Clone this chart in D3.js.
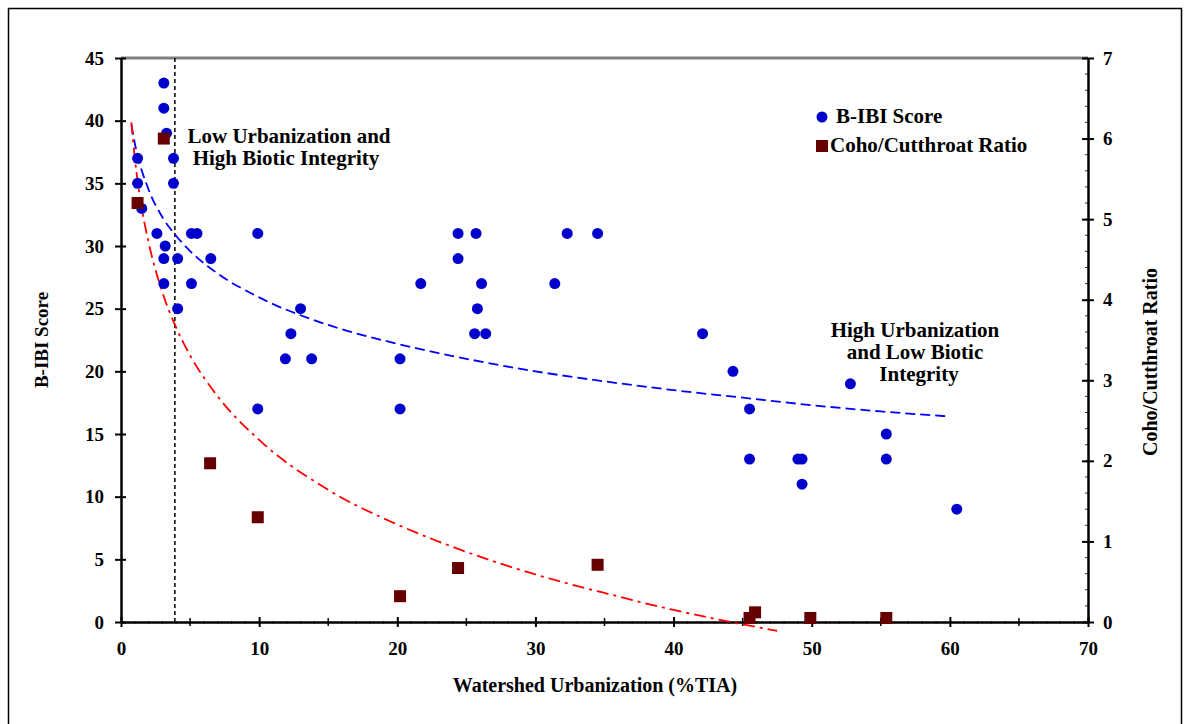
<!DOCTYPE html>
<html><head><meta charset="utf-8">
<script src="https://cdn.jsdelivr.net/npm/d3@7"></script>
<style>body{margin:0;background:#fff}svg text{font-family:"Liberation Serif","Times New Roman",serif;font-weight:bold;fill:#000}</style>
</head><body><svg id="c" width="1189" height="724"></svg>
<script>
// B-IBI score points: watershed %TIA and score
const ibiX = [3.1,3.1,3.3,1.2,3.8,1.2,3.8,1.5,2.6,5.1,5.5,9.9,3.2,3.1,4.1,6.5,3.1,5.1,4.1,13.0,12.3,11.9,13.8,20.2,9.9,20.2,
  24.4,25.7,24.4,21.7,26.1,31.4,32.3,34.5,25.8,25.6,26.4,42.1,44.3,45.5,45.5,49.0,49.3,49.3,52.8,55.4,55.4,60.5];
const ibiY = [43,41,39,37,37,35,35,33,31,31,31,31,30,29,29,29,27,27,25,25,23,21,21,21,17,17,
  31,31,29,27,27,27,31,31,25,23,23,23,20,17,13,13,13,11,19,15,13,9];
// Coho/Cutthroat ratio points
const cohoX = [3.1,1.2,6.45,9.9,20.2,24.4,34.5,45.5,45.9,49.9,55.4];
const cohoY = [6.0,5.2,1.97,1.3,0.32,0.67,0.71,0.05,0.12,0.05,0.05];
// Trend lines
const ibiTrendX = [0.75,1,2,3,4,5,7,10,15,20,25,30,35,40,45,50,55,60];
const ibiTrendY = [39.7,38.2,34.5,32.3,30.8,29.6,27.8,25.9,23.7,22.2,21.0,20.0,19.2,18.5,17.9,17.3,16.8,16.4];
const cohoTrendX = [0.75,1,1.5,2,3,4,5,7,10,15,20,25,30,35,40,45,47.5];
const cohoTrendY = [6.2,5.76,5.14,4.71,4.09,3.65,3.31,2.80,2.26,1.64,1.21,0.87,0.59,0.36,0.15,-0.03,-0.11];
const xTicks = [0,10,20,30,40,50,60,70];
const yLeftTicks = [0,5,10,15,20,25,30,35,40,45];
const yRightTicks = [0,1,2,3,4,5,6,7];
const thresholdX = 3.9;

const svg = d3.select("#c");
const L=121,R=1088,T=58,B=622;
const x = d3.scaleLinear().domain([0,70]).range([L,R]);
const yl = d3.scaleLinear().domain([0,45]).range([B,T]);
const yr = d3.scaleLinear().domain([0,7]).range([B,T]);

svg.append("rect").attr("x",8.5).attr("y",8.5).attr("width",1173).attr("height",740)
  .attr("fill","none").attr("stroke","#000").attr("stroke-width",1.5);

// top gray border of plot
svg.append("line").attr("x1",L).attr("x2",R).attr("y1",T).attr("y2",T).attr("stroke","#808080").attr("stroke-width",3);

// minor ticks
const gx = svg.append("g");
d3.range(0,71,1).forEach(v=>{ if(v%5) gx.append("line").attr("x1",x(v)).attr("x2",x(v)).attr("y1",B-1).attr("y2",B+2).attr("stroke","#000").attr("stroke-width",0.8);});
d3.range(5,70,10).forEach(v=>gx.append("line").attr("x1",x(v)).attr("x2",x(v)).attr("y1",B-4).attr("y2",B+4).attr("stroke","#000").attr("stroke-width",1.5));
d3.range(0,7.01,0.2).forEach(v=>{ gx.append("line").attr("x1",R-3).attr("x2",R).attr("y1",yr(v)).attr("y2",yr(v)).attr("stroke","#000").attr("stroke-width",0.8);});

// axes
const fmt = d3.format("d");
const xAxis = d3.axisBottom(x).tickValues(xTicks).tickFormat(fmt).tickSizeInner(5).tickSizeOuter(0).tickPadding(15);
const ax = svg.append("g").attr("transform",`translate(0,${B})`).call(xAxis);
ax.selectAll(".tick line").attr("y1",-5).attr("stroke-width",2);
ax.select(".domain").attr("stroke-width",2.5);

const ylAxis = d3.axisLeft(yl).tickValues(yLeftTicks).tickFormat(fmt).tickSizeInner(6).tickSizeOuter(0).tickPadding(11);
const ayl = svg.append("g").attr("transform",`translate(${L},0)`).call(ylAxis);
ayl.selectAll(".tick line").attr("x1",5).attr("stroke-width",2);
ayl.select(".domain").attr("stroke-width",2.5);

const yrAxis = d3.axisRight(yr).tickValues(yRightTicks).tickFormat(fmt).tickSizeInner(6).tickSizeOuter(0).tickPadding(9);
const ayr = svg.append("g").attr("transform",`translate(${R},0)`).call(yrAxis);
ayr.selectAll(".tick line").attr("x1",-6).attr("stroke-width",2);
ayr.select(".domain").attr("stroke-width",2.5);
svg.selectAll(".tick text").attr("font-size",19).style("font-family","Liberation Serif").style("font-weight","bold");

// threshold dotted line
svg.append("line").attr("x1",x(thresholdX)).attr("x2",x(thresholdX)).attr("y1",T).attr("y2",B)
  .attr("stroke","#000").attr("stroke-width",1.5).attr("stroke-dasharray","4,3");

// trend lines
svg.append("path").datum(d3.zip(ibiTrendX,ibiTrendY))
  .attr("d",d3.line().x(d=>x(d[0])).y(d=>yl(d[1])).curve(d3.curveMonotoneX))
  .attr("fill","none").attr("stroke","#0000ff").attr("stroke-width",1.8).attr("stroke-dasharray","10,5");
svg.append("path").datum(d3.zip(cohoTrendX,cohoTrendY))
  .attr("d",d3.line().x(d=>x(d[0])).y(d=>yr(d[1])).curve(d3.curveMonotoneX))
  .attr("fill","none").attr("stroke","#ff0000").attr("stroke-width",1.8).attr("stroke-dasharray","12,5,3,5");

// points
svg.append("g").selectAll("circle").data(d3.zip(ibiX,ibiY)).join("circle")
  .attr("cx",d=>x(d[0])).attr("cy",d=>yl(d[1])).attr("r",5.5).attr("fill","#0000cc");
const s=12;
svg.append("g").selectAll("rect").data(d3.zip(cohoX,cohoY)).join("rect")
  .attr("x",d=>x(d[0])-s/2).attr("y",d=>yr(d[1])-s/2).attr("width",s).attr("height",s).attr("fill","#660000");

// legend
svg.append("circle").attr("cx",822).attr("cy",117).attr("r",5.5).attr("fill","#0000cc");
svg.append("text").attr("x",836).attr("y",123).attr("font-size",21).text("B-IBI Score");
svg.append("rect").attr("x",816).attr("y",140).attr("width",12).attr("height",12).attr("fill","#660000");
svg.append("text").attr("x",830).attr("y",152).attr("font-size",21).text("Coho/Cutthroat Ratio");

// annotations
const a1 = svg.append("text").attr("font-size",21).attr("text-anchor","middle");
a1.append("tspan").attr("x",289).attr("y",143).text("Low Urbanization and");
a1.append("tspan").attr("x",286).attr("y",165).text("High Biotic Integrity");
const a2 = svg.append("text").attr("font-size",21).attr("text-anchor","middle");
a2.append("tspan").attr("x",915).attr("y",337).text("High Urbanization");
a2.append("tspan").attr("x",915).attr("y",359).text("and Low Biotic");
a2.append("tspan").attr("x",919).attr("y",381).text("Integrity");

// axis titles
svg.append("text").attr("x",595).attr("y",692).attr("text-anchor","middle").attr("font-size",20).text("Watershed Urbanization (%TIA)");
svg.append("text").attr("transform","translate(48,340) rotate(-90)").attr("text-anchor","middle").attr("font-size",19).text("B-IBI Score");
svg.append("text").attr("transform","translate(1157,362) rotate(-90)").attr("text-anchor","middle").attr("font-size",20).text("Coho/Cutthroat Ratio");
</script></body></html>
